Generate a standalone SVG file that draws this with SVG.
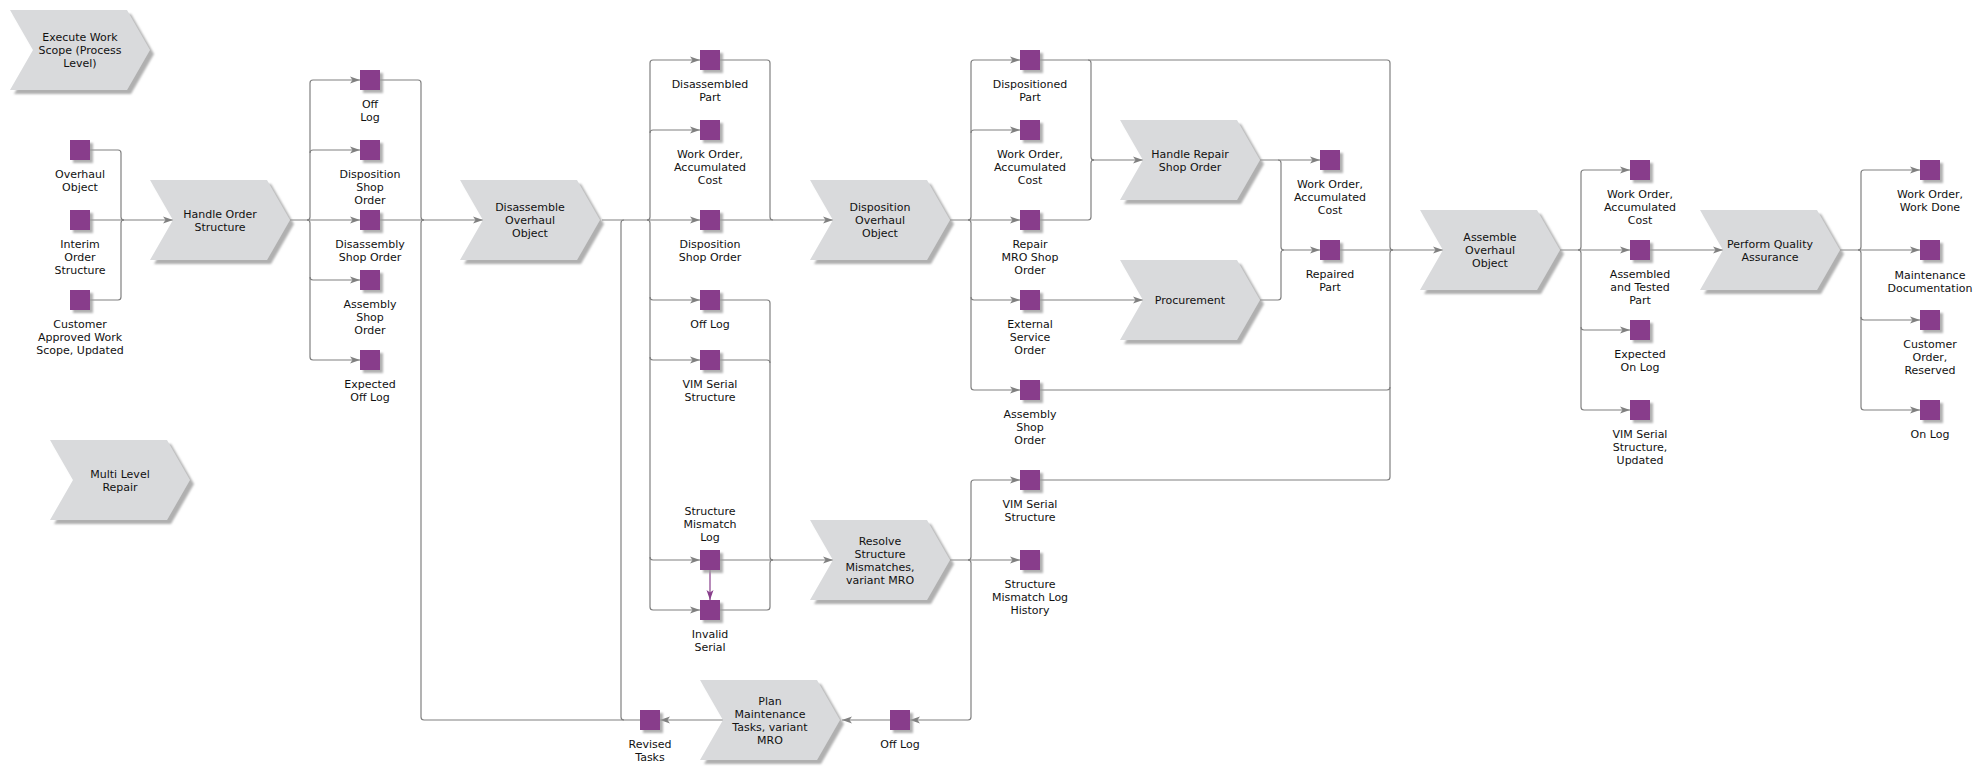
<svg xmlns="http://www.w3.org/2000/svg" xmlns:xlink="http://www.w3.org/1999/xlink" width="1979" height="772" viewBox="0 0 1979 772">
<style>
text{font-family:"DejaVu Sans","Verdana",sans-serif;font-size:11px;fill:#111;text-anchor:middle}
.fn{fill:#D9DADC;filter:url(#shC)}
.ob{fill:#883E8B;filter:url(#shO)}
.c{fill:none;stroke:#808080;stroke-width:1.2}
.ca{fill:none;stroke:#808080;stroke-width:1.2;marker-end:url(#ar)}
.cp{fill:none;stroke:#883E8B;stroke-width:1.2;marker-end:url(#arp)}
</style>
<defs>
<filter id="shC" x="-10%" y="-10%" width="130%" height="130%"><feDropShadow dx="4" dy="4" stdDeviation="1" flood-color="#9c9c9c" flood-opacity="0.8"/></filter>
<filter id="shO" x="-20%" y="-20%" width="160%" height="160%"><feDropShadow dx="3" dy="3" stdDeviation="1" flood-color="#9c9c9c" flood-opacity="0.8"/></filter>
<path id="chev" d="M0,0 H117 L140,40 L117,80 H0 L23,40 Z"/>
<rect id="sq" width="20" height="20"/>
<marker id="ar" markerUnits="userSpaceOnUse" markerWidth="10" markerHeight="8" viewBox="0 0 10 8" refX="10" refY="4" orient="auto"><path d="M0,0.5 L10,4 L0,7.5 L2.5,4 Z" fill="#808080"/></marker>
<marker id="arp" markerUnits="userSpaceOnUse" markerWidth="10" markerHeight="8" viewBox="0 0 10 8" refX="10" refY="4" orient="auto"><path d="M0,0.5 L10,4 L0,7.5 L2.5,4 Z" fill="#883E8B"/></marker>
</defs>
<rect width="1979" height="772" fill="#fff"/>

<g id="connectors">
<!-- inputs to Handle Order Structure -->
<path class="c" d="M90,150 H118 Q121,150 121,153 V217 Q121,220 124,220"/>
<path class="c" d="M90,300 H118 Q121,300 121,297 V223 Q121,220 124,220"/>
<path class="ca" d="M90,220 H173"/>
<!-- Handle Order split -->
<path class="ca" d="M290,220 H360"/>
<path class="ca" d="M307,220 Q310,220 310,217 V83 Q310,80 313,80 H360"/>
<path class="ca" d="M310,153 Q310,150 313,150 H360"/>
<path class="ca" d="M307,220 Q310,220 310,223 V357 Q310,360 313,360 H360"/>
<path class="ca" d="M310,277 Q310,280 313,280 H360"/>
<!-- join to Disassemble -->
<path class="c" d="M380,80 H418 Q421,80 421,83 V217 Q421,220 424,220"/>
<path class="c" d="M640,720 H424 Q421,720 421,717 V223 Q421,220 424,220"/>
<path class="ca" d="M380,220 H483"/>
<path class="c" d="M624,720 Q621,720 621,717 V223 Q621,220 624,220"/>
<!-- Disassemble split -->
<path class="ca" d="M602,220 H700"/>
<path class="ca" d="M647,220 Q650,220 650,217 V63 Q650,60 653,60 H700"/>
<path class="ca" d="M650,133 Q650,130 653,130 H700"/>
<path class="ca" d="M647,220 Q650,220 650,223 V607 Q650,610 653,610 H700"/>
<path class="ca" d="M650,297 Q650,300 653,300 H700"/>
<path class="ca" d="M650,357 Q650,360 653,360 H700"/>
<path class="ca" d="M650,557 Q650,560 653,560 H700"/>
<!-- join to Disposition Overhaul Object -->
<path class="c" d="M720,60 H767 Q770,60 770,63 V217 Q770,220 773,220"/>
<path class="ca" d="M720,220 H833"/>
<!-- join to Resolve -->
<path class="c" d="M720,300 H767 Q770,300 770,303 V557 Q770,560 773,560"/>
<path class="c" d="M720,360 H767 Q770,360 770,363"/>
<path class="c" d="M720,610 H767 Q770,610 770,607 V563 Q770,560 773,560"/>
<path class="ca" d="M720,560 H833"/>
<path class="cp" d="M710,570 V600"/>
<!-- Resolve split -->
<path class="ca" d="M950,560 H1020"/>
<path class="ca" d="M968,560 Q971,560 971,557 V483 Q971,480 974,480 H1020"/>
<path class="ca" d="M968,560 Q971,560 971,563 V717 Q971,720 968,720 H910"/>
<path class="ca" d="M890,720 H842"/>
<path class="ca" d="M723,720 H660"/>
<!-- Disposition split -->
<path class="ca" d="M950,220 H1020"/>
<path class="ca" d="M968,220 Q971,220 971,217 V63 Q971,60 974,60 H1020"/>
<path class="ca" d="M971,133 Q971,130 974,130 H1020"/>
<path class="ca" d="M968,220 Q971,220 971,223 V387 Q971,390 974,390 H1020"/>
<path class="ca" d="M971,297 Q971,300 974,300 H1020"/>
<!-- join to Handle Repair Shop Order -->
<path class="c" d="M1088,60 Q1091,60 1091,63 V157 Q1091,160 1094,160"/>
<path class="c" d="M1040,220 H1088 Q1091,220 1091,217 V163 Q1091,160 1094,160"/>
<path class="ca" d="M1091,160 H1143"/>
<path class="ca" d="M1040,300 H1143"/>
<!-- Handle Repair / Procurement split -->
<path class="ca" d="M1260,160 H1320"/>
<path class="ca" d="M1278,160 Q1281,160 1281,163 V247 Q1281,250 1284,250 H1320"/>
<path class="c" d="M1260,300 H1278 Q1281,300 1281,297 V253 Q1281,250 1284,250"/>
<!-- join to Assemble -->
<path class="c" d="M1040,60 H1387 Q1390,60 1390,63 V247 Q1390,250 1393,250"/>
<path class="c" d="M1040,390 H1387 Q1390,390 1390,387"/>
<path class="c" d="M1040,480 H1387 Q1390,480 1390,477 V253 Q1390,250 1393,250"/>
<path class="ca" d="M1340,250 H1443"/>
<!-- Assemble split -->
<path class="ca" d="M1560,250 H1630"/>
<path class="ca" d="M1578,250 Q1581,250 1581,247 V173 Q1581,170 1584,170 H1630"/>
<path class="ca" d="M1578,250 Q1581,250 1581,253 V407 Q1581,410 1584,410 H1630"/>
<path class="ca" d="M1581,327 Q1581,330 1584,330 H1630"/>
<path class="ca" d="M1650,250 H1723"/>
<!-- PQA split -->
<path class="ca" d="M1840,250 H1920"/>
<path class="ca" d="M1858,250 Q1861,250 1861,247 V173 Q1861,170 1864,170 H1920"/>
<path class="ca" d="M1858,250 Q1861,250 1861,253 V407 Q1861,410 1864,410 H1920"/>
<path class="ca" d="M1861,317 Q1861,320 1864,320 H1920"/>
</g>

<!-- functions -->
<g id="fn-execute-work-scope"><use href="#chev" class="fn" x="10" y="10"/><text x="80" y="41">Execute Work</text><text x="80" y="54">Scope (Process</text><text x="80" y="67">Level)</text></g>
<g id="fn-multi-level-repair"><use href="#chev" class="fn" x="50" y="440"/><text x="120" y="477.5">Multi Level</text><text x="120" y="490.5">Repair</text></g>
<g id="fn-handle-order-structure"><use href="#chev" class="fn" x="150" y="180"/><text x="220" y="217.5">Handle Order</text><text x="220" y="230.5">Structure</text></g>
<g id="fn-disassemble"><use href="#chev" class="fn" x="460" y="180"/><text x="530" y="211">Disassemble</text><text x="530" y="224">Overhaul</text><text x="530" y="237">Object</text></g>
<g id="fn-disposition"><use href="#chev" class="fn" x="810" y="180"/><text x="880" y="211">Disposition</text><text x="880" y="224">Overhaul</text><text x="880" y="237">Object</text></g>
<g id="fn-resolve"><use href="#chev" class="fn" x="810" y="520"/><text x="880" y="544.5">Resolve</text><text x="880" y="557.5">Structure</text><text x="880" y="570.5">Mismatches,</text><text x="880" y="583.5">variant MRO</text></g>
<g id="fn-plan-maintenance"><use href="#chev" class="fn" x="700" y="680"/><text x="770" y="704.5">Plan</text><text x="770" y="717.5">Maintenance</text><text x="770" y="730.5">Tasks, variant</text><text x="770" y="743.5">MRO</text></g>
<g id="fn-handle-repair"><use href="#chev" class="fn" x="1120" y="120"/><text x="1190" y="157.5">Handle Repair</text><text x="1190" y="170.5">Shop Order</text></g>
<g id="fn-procurement"><use href="#chev" class="fn" x="1120" y="260"/><text x="1190" y="304">Procurement</text></g>
<g id="fn-assemble"><use href="#chev" class="fn" x="1420" y="210"/><text x="1490" y="241">Assemble</text><text x="1490" y="254">Overhaul</text><text x="1490" y="267">Object</text></g>
<g id="fn-pqa"><use href="#chev" class="fn" x="1700" y="210"/><text x="1770" y="247.5">Perform Quality</text><text x="1770" y="260.5">Assurance</text></g>

<!-- objects -->
<g id="obj-overhaul-object"><use href="#sq" class="ob" x="70" y="140"/><text x="80" y="178">Overhaul</text><text x="80" y="191">Object</text></g>
<g id="obj-interim-order-structure"><use href="#sq" class="ob" x="70" y="210"/><text x="80" y="248">Interim</text><text x="80" y="261">Order</text><text x="80" y="274">Structure</text></g>
<g id="obj-customer-approved"><use href="#sq" class="ob" x="70" y="290"/><text x="80" y="328">Customer</text><text x="80" y="341">Approved Work</text><text x="80" y="354">Scope, Updated</text></g>

<g id="obj-off-log-1"><use href="#sq" class="ob" x="360" y="70"/><text x="370" y="108">Off</text><text x="370" y="121">Log</text></g>
<g id="obj-disposition-shop-order-1"><use href="#sq" class="ob" x="360" y="140"/><text x="370" y="178">Disposition</text><text x="370" y="191">Shop</text><text x="370" y="204">Order</text></g>
<g id="obj-disassembly-shop-order"><use href="#sq" class="ob" x="360" y="210"/><text x="370" y="248">Disassembly</text><text x="370" y="261">Shop Order</text></g>
<g id="obj-assembly-shop-order-1"><use href="#sq" class="ob" x="360" y="270"/><text x="370" y="308">Assembly</text><text x="370" y="321">Shop</text><text x="370" y="334">Order</text></g>
<g id="obj-expected-off-log"><use href="#sq" class="ob" x="360" y="350"/><text x="370" y="388">Expected</text><text x="370" y="401">Off Log</text></g>

<g id="obj-disassembled-part"><use href="#sq" class="ob" x="700" y="50"/><text x="710" y="88">Disassembled</text><text x="710" y="101">Part</text></g>
<g id="obj-work-order-1"><use href="#sq" class="ob" x="700" y="120"/><text x="710" y="158">Work Order,</text><text x="710" y="171">Accumulated</text><text x="710" y="184">Cost</text></g>
<g id="obj-disposition-shop-order-2"><use href="#sq" class="ob" x="700" y="210"/><text x="710" y="248">Disposition</text><text x="710" y="261">Shop Order</text></g>
<g id="obj-off-log-2"><use href="#sq" class="ob" x="700" y="290"/><text x="710" y="328">Off Log</text></g>
<g id="obj-vim-serial-1"><use href="#sq" class="ob" x="700" y="350"/><text x="710" y="388">VIM Serial</text><text x="710" y="401">Structure</text></g>
<g id="obj-structure-mismatch-log"><use href="#sq" class="ob" x="700" y="550"/><text x="710" y="515">Structure</text><text x="710" y="528">Mismatch</text><text x="710" y="541">Log</text></g>
<g id="obj-invalid-serial"><use href="#sq" class="ob" x="700" y="600"/><text x="710" y="638">Invalid</text><text x="710" y="651">Serial</text></g>

<g id="obj-dispositioned-part"><use href="#sq" class="ob" x="1020" y="50"/><text x="1030" y="88">Dispositioned</text><text x="1030" y="101">Part</text></g>
<g id="obj-work-order-2"><use href="#sq" class="ob" x="1020" y="120"/><text x="1030" y="158">Work Order,</text><text x="1030" y="171">Accumulated</text><text x="1030" y="184">Cost</text></g>
<g id="obj-repair-mro"><use href="#sq" class="ob" x="1020" y="210"/><text x="1030" y="248">Repair</text><text x="1030" y="261">MRO Shop</text><text x="1030" y="274">Order</text></g>
<g id="obj-external-service"><use href="#sq" class="ob" x="1020" y="290"/><text x="1030" y="328">External</text><text x="1030" y="341">Service</text><text x="1030" y="354">Order</text></g>
<g id="obj-assembly-shop-order-2"><use href="#sq" class="ob" x="1020" y="380"/><text x="1030" y="418">Assembly</text><text x="1030" y="431">Shop</text><text x="1030" y="444">Order</text></g>
<g id="obj-vim-serial-2"><use href="#sq" class="ob" x="1020" y="470"/><text x="1030" y="508">VIM Serial</text><text x="1030" y="521">Structure</text></g>
<g id="obj-structure-mismatch-history"><use href="#sq" class="ob" x="1020" y="550"/><text x="1030" y="588">Structure</text><text x="1030" y="601">Mismatch Log</text><text x="1030" y="614">History</text></g>
<g id="obj-off-log-3"><use href="#sq" class="ob" x="890" y="710"/><text x="900" y="748">Off Log</text></g>
<g id="obj-revised-tasks"><use href="#sq" class="ob" x="640" y="710"/><text x="650" y="748">Revised</text><text x="650" y="761">Tasks</text></g>

<g id="obj-work-order-3"><use href="#sq" class="ob" x="1320" y="150"/><text x="1330" y="188">Work Order,</text><text x="1330" y="201">Accumulated</text><text x="1330" y="214">Cost</text></g>
<g id="obj-repaired-part"><use href="#sq" class="ob" x="1320" y="240"/><text x="1330" y="278">Repaired</text><text x="1330" y="291">Part</text></g>

<g id="obj-work-order-4"><use href="#sq" class="ob" x="1630" y="160"/><text x="1640" y="198">Work Order,</text><text x="1640" y="211">Accumulated</text><text x="1640" y="224">Cost</text></g>
<g id="obj-assembled-tested"><use href="#sq" class="ob" x="1630" y="240"/><text x="1640" y="278">Assembled</text><text x="1640" y="291">and Tested</text><text x="1640" y="304">Part</text></g>
<g id="obj-expected-on-log"><use href="#sq" class="ob" x="1630" y="320"/><text x="1640" y="358">Expected</text><text x="1640" y="371">On Log</text></g>
<g id="obj-vim-serial-updated"><use href="#sq" class="ob" x="1630" y="400"/><text x="1640" y="438">VIM Serial</text><text x="1640" y="451">Structure,</text><text x="1640" y="464">Updated</text></g>

<g id="obj-work-done"><use href="#sq" class="ob" x="1920" y="160"/><text x="1930" y="198">Work Order,</text><text x="1930" y="211">Work Done</text></g>
<g id="obj-maintenance-doc"><use href="#sq" class="ob" x="1920" y="240"/><text x="1930" y="279">Maintenance</text><text x="1930" y="292">Documentation</text></g>
<g id="obj-customer-order-reserved"><use href="#sq" class="ob" x="1920" y="310"/><text x="1930" y="348">Customer</text><text x="1930" y="361">Order,</text><text x="1930" y="374">Reserved</text></g>
<g id="obj-on-log"><use href="#sq" class="ob" x="1920" y="400"/><text x="1930" y="438">On Log</text></g>
</svg>
